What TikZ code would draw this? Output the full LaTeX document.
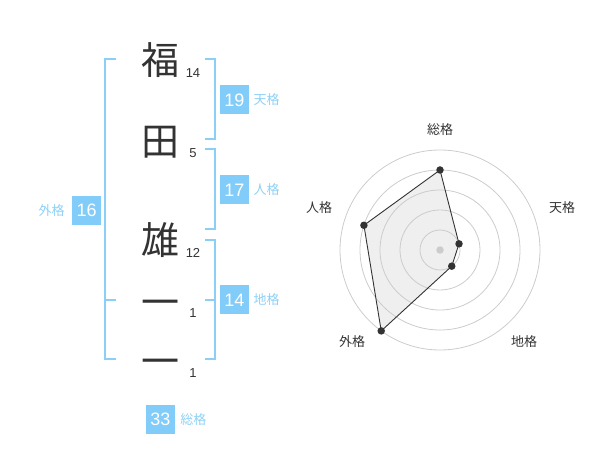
\documentclass[tikz,border=0pt]{standalone}
\usepackage{fontspec}
\setmainfont{Liberation Sans}
\newfontfamily\jpfont{Noto Sans CJK JP}
\usepackage{tikz}
\usetikzlibrary{
	calc,
	positioning
}
\definecolor{ink}{HTML}{333333}
\definecolor{kakubox}{HTML}{82CCFA}
\definecolor{kakuline}{HTML}{8BCFF7}
\definecolor{kakutext}{HTML}{8FD0F5}
\definecolor{ringgray}{HTML}{CCCCCC}
\definecolor{polyfill}{HTML}{EFEFEF}

\begin{document}
\begin{tikzpicture} [
		x = 1pt,
		y = -1pt,
		kanji/.style = {
			font = \jpfont\fontsize{38}{38}\selectfont,
			text = ink,
			inner sep = 0pt,
		},
		strokes/.style = {
			font = \fontsize{13}{13}\selectfont,
			text = ink,
			inner sep = 0pt,
		},
		score/.style = {
			rectangle,
			fill = kakubox,
			text = white,
			minimum size = 29pt,
			inner sep = 0pt,
			font = \fontsize{18}{18}\selectfont,
		},
		kaku/.style = {
			font = \jpfont\fontsize{13}{13}\selectfont,
			text = kakutext,
			inner sep = 0pt,
		},
		bracket/.style = {
			draw = kakuline,
			line width = 1.7pt,
		},
		ring/.style = {
			draw = ringgray,
			line width = 0.8pt,
		},
		axis-label/.style = {
			font = \jpfont\fontsize{13}{13}\selectfont,
			text = ink,
		},
		dot/.style = {
			circle,
			fill = ink,
			inner sep = 0pt,
			minimum size = 7.5pt,
		}
	]

	\useasboundingbox (0,0) rectangle (600,470);

	% name
	\node[kanji] (fuku) at (160, 60) {福};
	\node[kanji] (ta) at (160, 142) {田};
	\node[kanji] (yu) at (160, 240) {雄};
	\node[kanji] (ichi-a) at (160, 308) {一};
	\node[kanji] (ichi-b) at (160, 367) {一};

	\node[strokes] (fuku-n) at (193, 73) {14};
	\node[strokes] (ta-n) at (193, 153) {5};
	\node[strokes] (yu-n) at (193, 253) {12};
	\node[strokes] (ichi-a-n) at (193, 313) {1};
	\node[strokes] (ichi-b-n) at (193, 373) {1};

	% brackets
	\draw[bracket] (205, 59.3) -- (215, 59.3) -- (215, 139.3) -- (205, 139.3);
	\draw[bracket] (205, 149.3) -- (215, 149.3) -- (215, 229.3) -- (205, 229.3);
	\draw[bracket] (205, 240) -- (215, 240) -- (215, 359.3) -- (205, 359.3);
	\draw[bracket] (205, 300) -- (215, 300);
	\draw[bracket] (116, 59.3) -- (105, 59.3) -- (105, 359.3) -- (116, 359.3);
	\draw[bracket] (105, 300) -- (116, 300);

	% scores
	\node[score] (ten) at (234.5, 100) {19};
	\node[kaku, right = 4.3pt of ten] (ten-l) {天格};
	\node[score] (jin) at (234.5, 190) {17};
	\node[kaku, right = 4.3pt of jin] (jin-l) {人格};
	\node[score] (chi) at (234.5, 300) {14};
	\node[kaku, right = 4.3pt of chi] (chi-l) {地格};
	\node[score] (gai) at (86.7, 210.3) {16};
	\node[kaku, left = 7.3pt of gai] (gai-l) {外格};
	\node[score] (so) at (160.5, 419.3) {33};
	\node[kaku, right = 5pt of so] (so-l) {総格};

	% radar
	\begin{scope} [
			shift = {(440, 250)},
			y = 1pt
		]
		\coordinate (so-p) at (90:80);
		\coordinate (ten-p) at (18:20);
		\coordinate (chi-p) at (-54:20);
		\coordinate (gai-p) at (-126:100);
		\coordinate (jin-p) at (162:80);

		\fill[polyfill] (so-p) -- (ten-p) -- (chi-p) -- (gai-p) -- (jin-p) -- cycle;
		\foreach \r in {20, 40, 60, 80, 100}
			\draw[ring] (0, 0) circle (\r pt);
		\draw[ink, line width = 0.9pt] (so-p) -- (ten-p) -- (chi-p) -- (gai-p) -- (jin-p) -- cycle;
		\foreach \p in {so-p, ten-p, chi-p, gai-p, jin-p}
			\node[dot] at (\p) {};
		\node[dot, fill = ringgray] (center) at (0, 0) {};

		\node[axis-label] (so-a) at (0, 120) {総格};
		\node[axis-label] (ten-a) at (122, 42) {天格};
		\node[axis-label] (chi-a) at (84, -92) {地格};
		\node[axis-label] (gai-a) at (-88, -92) {外格};
		\node[axis-label] (jin-a) at (-121, 42) {人格};
	\end{scope}
\end{tikzpicture}
\end{document}
